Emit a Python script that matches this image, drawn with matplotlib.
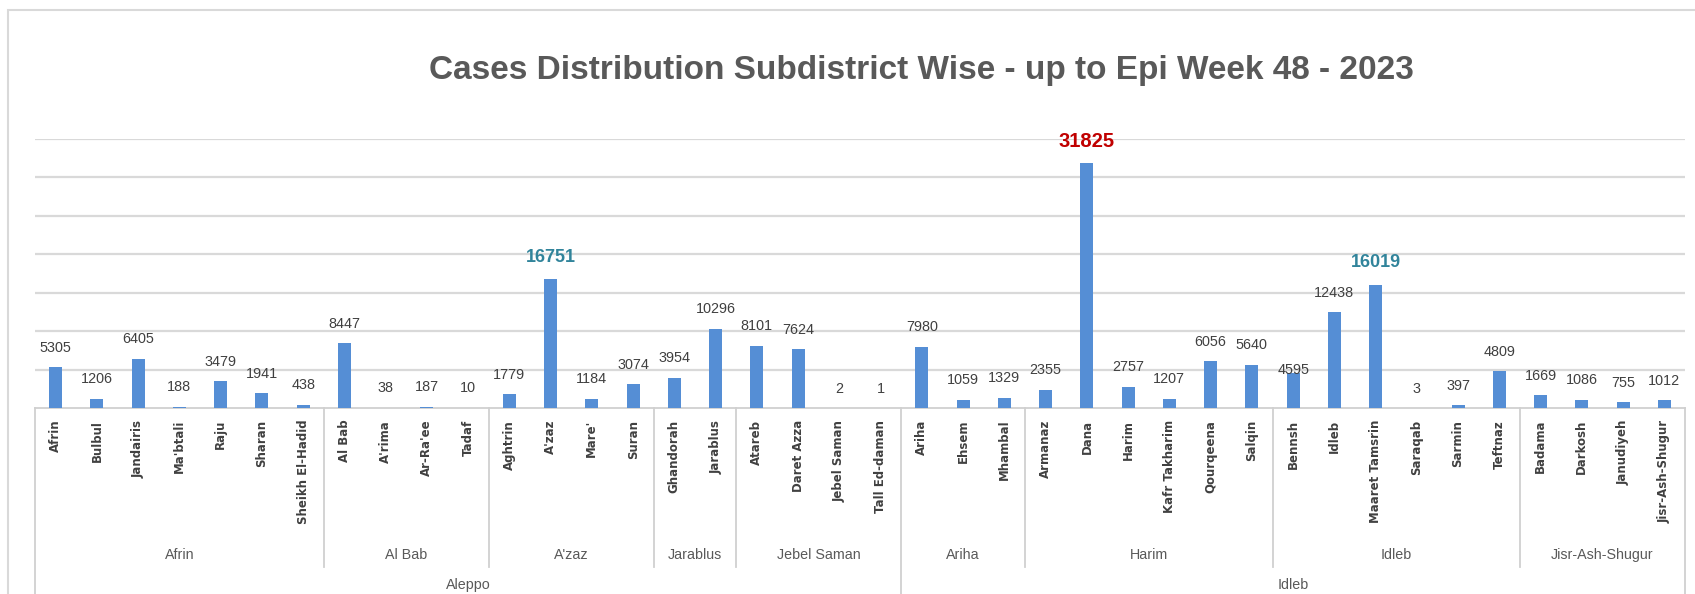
import numpy as np
import matplotlib
matplotlib.use("Agg")
import matplotlib.pyplot as plt
from matplotlib import font_manager
from matplotlib.patches import Rectangle
from matplotlib.transforms import blended_transform_factory

# Data
subdistricts = [
    "Afrin", "Bulbul", "Jandairis", "Ma'btali", "Raju", "Sharan", "Sheikh El-Hadid",
    "Al Bab", "A'rima", "Ar-Ra'ee", "Tadaf",
    "Aghtrin", "A'zaz", "Mare'", "Suran",
    "Ghandorah", "Jarablus",
    "Atareb", "Daret Azza", "Jebel Saman", "Tall Ed-daman",
    "Ariha", "Ehsem", "Mhambal",
    "Armanaz", "Dana", "Harim", "Kafr Takharim", "Qourqeena", "Salqin",
    "Bennsh", "Idleb", "Maaret Tamsrin", "Saraqab", "Sarmin", "Teftnaz",
    "Badama", "Darkosh", "Janudiyeh", "Jisr-Ash-Shugur",
]
cases = [
    5305, 1206, 6405, 188, 3479, 1941, 438,
    8447, 38, 187, 10,
    1779, 16751, 1184, 3074,
    3954, 10296,
    8101, 7624, 2, 1,
    7980, 1059, 1329,
    2355, 31825, 2757, 1207, 6056, 5640,
    4595, 12438, 16019, 3, 397, 4809,
    1669, 1086, 755, 1012,
]
sub_groups = ["Afrin", "Al Bab", "A'zaz", "Jarablus", "Jebel Saman",
              "Ariha", "Harim", "Idleb", "Jisr-Ash-Shugur"]
sub_group_sizes = [7, 4, 4, 2, 4, 3, 6, 6, 4]
districts = ["Aleppo", "Idleb"]
district_sizes = [21, 19]

highlight = {"Dana": "#C00000", "A'zaz": "#31849B", "Maaret Tamsrin": "#31849B"}


def has_font(name):
    try:
        font_manager.findfont(font_manager.FontProperties(family=name),
                              fallback_to_default=False)
        return True
    except Exception:
        return False


narrow = "Liberation Sans Narrow" if has_font("Liberation Sans Narrow") else "Liberation Sans"
sans = "Liberation Sans"

W, H = 1695, 594
fig = plt.figure(figsize=(W / 100, H / 100), dpi=100)
fig.patch.set_facecolor("white")

# outer chart border
fig.patches.append(Rectangle((8 / W, -0.05), 1.1, 1 - 10 / H + 0.05,
                             transform=fig.transFigure, fill=False,
                             edgecolor="#D9D9D9", lw=1.5))

ax = fig.add_axes([35 / W, 1 - 408 / H, 1650 / W, 269 / H])
x = np.arange(len(cases))
ax.bar(x, cases, width=0.31, color="#558ED5", zorder=3)
ax.set_xlim(-0.5, len(cases) - 0.5)
ax.set_ylim(0, 35000)
ax.set_yticks(np.arange(5000, 35001, 5000))
ax.yaxis.grid(True, color="#D9D9D9", lw=1.6)
ax.tick_params(axis="y", length=0, labelleft=False)
for s in ["top", "right", "left"]:
    ax.spines[s].set_visible(False)
ax.spines["bottom"].set_color("#D0D0D0")
ax.spines["bottom"].set_linewidth(1.3)

ax.set_xticks(x)
ax.set_xticklabels(subdistricts, rotation=90, fontsize=8.5, fontweight="bold",
                   color="#404040", family="DejaVu Sans")
ax.tick_params(axis="x", length=0, pad=8.5)

# data labels
for i, (name, v) in enumerate(zip(subdistricts, cases)):
    if name in highlight:
        size = 14.5 if name == "Dana" else 13
        ax.annotate(str(v), (i, v), xytext=(0, 16), textcoords="offset points",
                    ha="center", va="center", fontsize=size, fontweight="bold",
                    color=highlight[name], family=sans)
    else:
        off = 2 if name == "Bennsh" else 14
        ax.annotate(str(v), (i, v), xytext=(0, off), textcoords="offset points",
                    ha="center", va="center", fontsize=10.4, color="#404040",
                    family=sans, zorder=4)

# category separators and group labels
tr = blended_transform_factory(ax.transData, ax.transAxes)
sub_bottom = -(567 - 408) / 269
dist_bottom = -0.75
dist_edges = set(np.cumsum([0] + district_sizes))
edges = np.cumsum([0] + sub_group_sizes)
for e in edges:
    bottom = dist_bottom if e in dist_edges else sub_bottom
    ax.plot([e - 0.5, e - 0.5], [0, bottom], transform=tr, color="#D0D0D0",
            lw=1.3, clip_on=False)

for name, a, b in zip(sub_groups, edges[:-1], edges[1:]):
    ax.text((a + b - 1) / 2, -(555 - 408) / 269, name, transform=tr,
            ha="center", va="center", fontsize=10.3, color="#595959", family=sans)

d_edges = np.cumsum([0] + district_sizes)
for name, a, b in zip(districts, d_edges[:-1], d_edges[1:]):
    ax.text((a + b - 1) / 2, -(592 - 408) / 269, name, transform=tr,
            ha="center", va="bottom", fontsize=10.3, color="#595959", family=sans)

fig.text(921 / W, 1 - 71 / H,
         "Cases Distribution Subdistrict Wise - up to Epi Week 48 - 2023",
         ha="center", va="center", fontsize=24, fontweight="bold",
         color="#595959", family=narrow)

fig.savefig("out.png", dpi=100)
